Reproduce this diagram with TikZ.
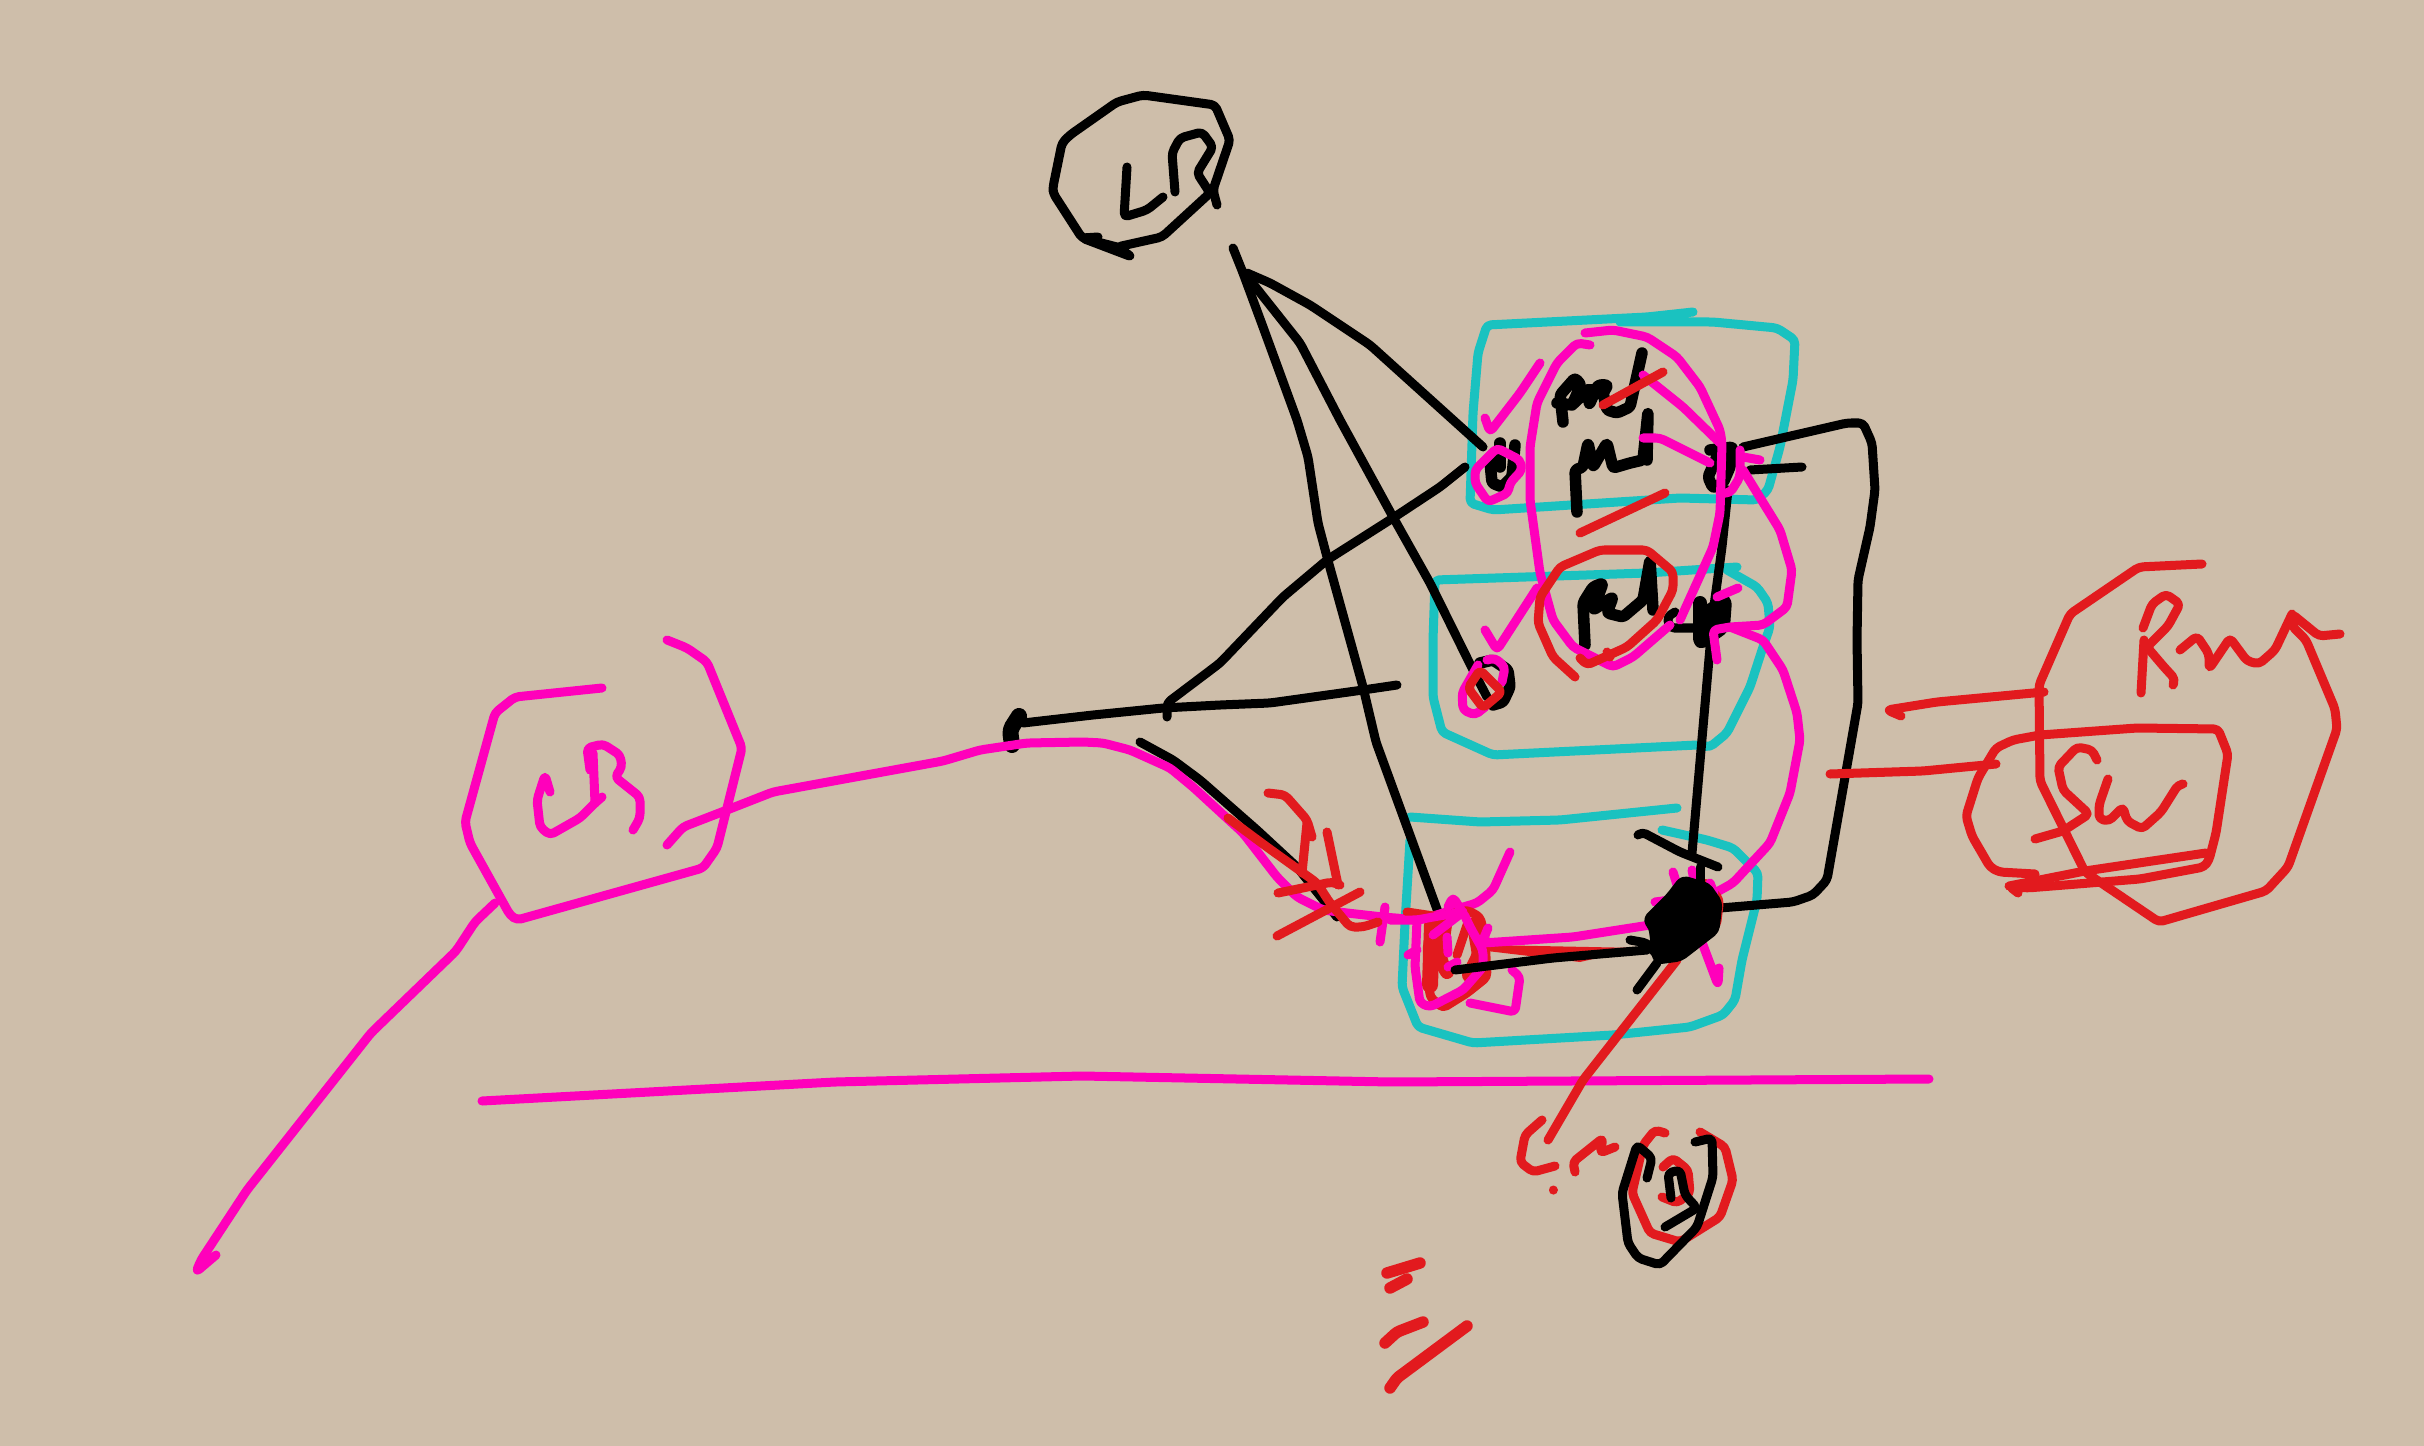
\documentclass[tikz,border=0pt]{standalone}
\usepackage{tikz}
\definecolor{paper}{RGB}{206,190,170}
\definecolor{tealink}{RGB}{26,194,192}
\definecolor{pinkink}{RGB}{255,0,187}
\definecolor{redink}{RGB}{226,26,30}
\begin{document}
\begin{tikzpicture}[
  x={(0.01cm,0cm)},
  y={(0cm,-0.01cm)},
  pen/.style={line width=0.09cm,line cap=round,line join=round,rounded corners=1.2pt},
  blackpen/.style={pen,black},
  tealpen/.style={pen,tealink},
  pinkpen/.style={pen,pinkink},
  redpen/.style={pen,redink},
  fatpen/.style={line width=0.115cm,rounded corners=0.8pt}]
\fill[paper] (0,0) rectangle (2424,1446);
\useasboundingbox (0,0) rectangle (2424,1446);
% Three boxes of the stack
\draw[tealpen] (1693,312) -- (1647,317) -- (1487,325) -- (1478,353) -- (1473,413) -- (1470,503) -- (1493,510) -- (1540,507) -- (1680,498) -- (1757,500) -- (1768,490) -- (1780,447) -- (1793,380) -- (1795,340) -- (1777,328) -- (1713,322) -- (1620,322);
\draw[tealpen] (1737,567) -- (1647,573) -- (1435,580) -- (1433,640) -- (1433,697) -- (1442,732) -- (1493,755) -- (1697,745) -- (1710,747) -- (1727,733) -- (1750,687) -- (1763,647) -- (1770,627) -- (1768,603) -- (1757,587) -- (1727,570);
\draw[tealpen] (1677,808) -- (1560,820) -- (1480,822) -- (1410,817);
\draw[tealpen] (1410,840) -- (1405,923) -- (1402,987) -- (1418,1027) -- (1473,1043) -- (1613,1035) -- (1690,1027) -- (1723,1015) -- (1735,1000) -- (1742,960) -- (1757,900) -- (1758,873) -- (1733,848) -- (1707,840) -- (1662,830);
% Black node top
\draw[blackpen] (1098,237) -- (1082,238) -- (1132,257) -- (1117,247) -- (1162,237) -- (1210,193) -- (1197,173) -- (1213,147) -- (1202,132) -- (1180,138) -- (1172,153) -- (1175,192);
\draw[blackpen] (1117,247) -- (1082,238) -- (1053,193) -- (1053,187) -- (1062,143) -- (1070,135) -- (1117,102) -- (1143,95) -- (1215,105) -- (1230,140) -- (1213,190) -- (1217,205);
\draw[blackpen] (1127,167) -- (1124,217) -- (1147,210) -- (1163,197);
% Links from the top node
\draw[blackpen] (1233,248) -- (1243,273) -- (1263,327) -- (1297,420) -- (1308,457) -- (1318,523) -- (1327,557) -- (1363,687) -- (1376,742) -- (1438,912);
\draw[blackpen] (1250,280) -- (1300,343) -- (1340,420) -- (1393,517) -- (1430,583) -- (1473,670) -- (1487,697);
\draw[blackpen] (1247,273) -- (1270,283) -- (1310,305) -- (1370,345) -- (1483,447);
% Links on the left
\draw[blackpen] (1465,467) -- (1440,487) -- (1393,518) -- (1327,560) -- (1283,597) -- (1220,663) -- (1167,703) -- (1167,717);
\draw[blackpen] (1023,723) -- (1093,715) -- (1163,708) -- (1220,705) -- (1270,703) -- (1363,690) -- (1397,685);
\draw[blackpen,line width=0.16cm] (1019,716) -- (1010,730) -- (1012,745);
\draw[blackpen] (1140,742) -- (1173,760) -- (1200,780) -- (1257,830) -- (1297,867) -- (1337,917);
% Links on the right
\draw[blackpen] (1743,447) -- (1847,423) -- (1863,423) -- (1872,443) -- (1875,490) -- (1870,527) -- (1858,580) -- (1857,640) -- (1858,703) -- (1827,880) -- (1813,895) -- (1793,902) -- (1720,908);
\draw[blackpen] (1750,470) -- (1802,467);
\draw[blackpen] (1728,490) -- (1722,547) -- (1713,613) -- (1692,853);
\draw[blackpen] (1638,835) -- (1642,832) -- (1680,852) -- (1718,867);
% Scribbled words
\draw[blackpen,fatpen] (1563,422) -- (1560,395) -- (1575,378) -- (1581,385) -- (1572,405) -- (1557,403);
\draw[blackpen,fatpen] (1572,405) -- (1590,388) -- (1589,405) -- (1598,385) -- (1608,385) -- (1603,393) -- (1607,410) -- (1617,413) -- (1630,407) -- (1642,353);
\draw[blackpen,fatpen] (1577,512) -- (1575,470) -- (1583,467) -- (1588,443) -- (1593,467) -- (1607,443) -- (1613,468) -- (1630,463) -- (1643,460) -- (1648,412) -- (1647,460);
\draw[blackpen,fatpen] (1585,645) -- (1583,603) -- (1593,587) -- (1603,583) -- (1593,610) -- (1613,597) -- (1607,613) -- (1623,617) -- (1643,600) -- (1650,560) -- (1653,610);
% Black dots of the stack
\draw[blackpen,fatpen] (1710,450) -- (1733,447) -- (1730,467) -- (1723,483) -- (1713,488) -- (1708,477) -- (1720,450);
\draw[blackpen] (1675,612) -- (1667,617) -- (1670,628) -- (1693,628);
\draw[blackpen,line width=0.14cm] (1700,603) -- (1700,643) -- (1723,627) -- (1725,600) -- (1707,613) -- (1704,630);
\draw[blackpen,fatpen] (1500,443) -- (1500,467);
\draw[blackpen,fatpen] (1490,462) -- (1492,483) -- (1502,487) -- (1512,477) -- (1515,445);
\draw[blackpen,fatpen] (1480,663) -- (1493,660) -- (1508,670) -- (1510,687) -- (1503,702) -- (1493,705);
% Pink node left
\draw[pinkpen] (602,688) -- (515,697) -- (495,713) -- (465,822) -- (470,843) -- (510,915) -- (517,920) -- (703,868) -- (717,848) -- (742,748) -- (707,662) -- (687,648) -- (667,640);
\draw[pinkpen] (550,792) -- (545,775) -- (537,800) -- (540,827) -- (550,835) -- (580,818) -- (595,803) -- (602,797);
\draw[pinkpen] (593,753) -- (595,803);
\draw[pinkpen] (590,770) -- (587,748) -- (603,744) -- (620,755) -- (622,767) -- (615,777) -- (640,797) -- (640,818) -- (633,830);
\draw[pinkpen] (495,903) -- (475,922) -- (456,951) -- (371,1033) -- (247,1190) -- (201,1260) -- (196,1272) -- (216,1255);
% Pink link and ground line
\draw[pinkpen] (667,845) -- (683,827) -- (727,810) -- (773,792) -- (943,761) -- (980,750) -- (1027,743) -- (1083,742) -- (1103,743) -- (1130,750) -- (1170,768) -- (1193,787) -- (1243,833) -- (1277,877) -- (1297,897) -- (1323,910) -- (1347,913) -- (1383,917) -- (1420,920) -- (1453,910) -- (1477,903) -- (1493,890) -- (1510,852);
\draw[pinkpen] (1385,907) -- (1380,942);
\draw[pinkpen] (482,1101) -- (835,1082) -- (1082,1076) -- (1391,1082) -- (1929,1079);
% Pink loops in the stack
\draw[pinkpen] (1590,345) -- (1577,343) -- (1557,363) -- (1537,403) -- (1530,447) -- (1530,500) -- (1540,573) -- (1553,620) -- (1573,647) -- (1613,667) -- (1633,657) -- (1670,625);
\draw[pinkpen] (1585,333) -- (1613,330) -- (1647,337) -- (1677,357) -- (1700,387) -- (1720,430) -- (1722,443) -- (1720,513) -- (1713,547) -- (1680,620);
\draw[pinkpen] (1643,375) -- (1683,407) -- (1720,443);
\draw[pinkpen] (1643,438) -- (1660,438) -- (1710,463);
\draw[pinkpen] (1743,457) -- (1760,460);
\draw[pinkpen] (1743,470) -- (1780,530) -- (1792,570) -- (1787,607) -- (1763,625) -- (1730,627) -- (1713,630) -- (1717,660);
\draw[pinkpen] (1717,597) -- (1738,588);
\draw[pinkpen] (1740,450) -- (1740,477) -- (1730,493) -- (1720,493);
\draw[pinkpen] (1730,627) -- (1763,640) -- (1783,670) -- (1797,713) -- (1800,740) -- (1790,793) -- (1770,843) -- (1733,883) -- (1715,893);
% Pink marks on the small nodes
\draw[pinkpen] (1540,363) -- (1520,393) -- (1490,432) -- (1485,418);
\draw[pinkpen] (1497,448) -- (1520,460) -- (1522,470) -- (1510,483) -- (1508,493) -- (1488,502) -- (1475,483) -- (1475,470) -- cycle;
\draw[pinkpen] (1537,588) -- (1497,650) -- (1485,630);
\draw[pinkpen] (1478,665) -- (1462,693) -- (1463,710) -- (1475,715) -- (1485,707);
\draw[pinkpen] (1487,660) -- (1495,658) -- (1505,667) -- (1502,682);
% Red strokes in the stack
\draw[redpen] (1663,372) -- (1603,405);
\draw[redpen] (1665,493) -- (1580,533);
\draw[redpen] (1575,677) -- (1553,657) -- (1538,623) -- (1540,597) -- (1560,567) -- (1600,550) -- (1647,550) -- (1673,572) -- (1673,590) -- (1657,620) -- (1627,647) -- (1587,665) -- (1580,658);
\draw[redpen] (1607,652) -- (1610,657);
\draw[redpen] (1480,670) -- (1468,688) -- (1483,708) -- (1502,692) -- cycle;
% Red marks on the link
\draw[redpen] (1268,793) -- (1285,795) -- (1307,820) -- (1312,837);
\draw[redpen] (1307,823) -- (1302,873);
\draw[redpen] (1228,818) -- (1267,847) -- (1317,883) -- (1330,903) -- (1350,927) -- (1363,927) -- (1378,922);
\draw[redpen] (1278,893) -- (1332,882) -- (1340,885);
\draw[redpen] (1327,832) -- (1338,885);
\draw[redpen] (1277,936) -- (1360,892);
% Red node right
\draw[redpen] (2202,564) -- (2139,567) -- (2070,614) -- (2039,685) -- (2040,781) -- (2085,872) -- (2159,922) -- (2266,891) -- (2288,867) -- (2337,729) -- (2335,709) -- (2306,640) -- (2292,626) -- (2292,614) -- (2319,636) -- (2340,634);
\draw[redpen] (2180,650) -- (2197,636) -- (2209,654) -- (2209,669) -- (2230,638) -- (2247,661) -- (2259,664) -- (2275,650) -- (2292,614);
\draw[redpen] (2143,628) -- (2152,604) -- (2166,594) -- (2180,604) -- (2168,626) -- (2147,647) -- (2164,667) -- (2175,679) -- (2173,685);
\draw[redpen] (2144,640) -- (2141,693);
\draw[redpen] (1901,716) -- (1887,710) -- (1937,702) -- (2044,692);
\draw[redpen] (1830,774) -- (1923,771) -- (1996,764);
% Red switch box
\draw[redpen] (2035,874) -- (1999,872) -- (1990,867) -- (1972,836) -- (1966,816) -- (1978,778) -- (1996,748) -- (2013,740) -- (2040,735) -- (2137,728) -- (2218,729) -- (2228,754) -- (2216,833) -- (2209,860) -- (2204,867) -- (2140,879) -- (2027,888) -- (2009,886) -- (2018,893);
\draw[redpen] (2206,853) -- (2085,871) -- (2009,886);
\draw[redpen] (2097,760) -- (2092,750) -- (2077,747) -- (2058,767) -- (2063,790) -- (2089,814) -- (2063,831) -- (2035,839);
\draw[redpen] (2108,779) -- (2099,805) -- (2099,819) -- (2109,821) -- (2123,807) -- (2127,821) -- (2142,829) -- (2161,812) -- (2178,785) -- (2183,784);
% Scribbled node at the foot of the stack
\draw[redpen,line width=0.16cm] (1432,925) -- (1430,985);
\draw[redpen,line width=0.14cm] (1445,925) -- (1440,960) -- (1447,972);
\draw[redpen,line width=0.16cm] (1475,925) -- (1480,955) -- (1470,975);
\draw[redpen] (1407,912) -- (1440,917) -- (1467,910) -- (1480,917) -- (1485,937) -- (1487,977) -- (1467,993) -- (1443,1008) -- (1430,997) -- (1427,947) -- (1433,927);
\draw[redpen] (1467,925) -- (1457,955);
\fill[redink] (1487,951) -- (1580,962) -- (1640,948) -- (1487,945) -- cycle;
\draw[pinkpen] (1390,920) -- (1417,920) -- (1433,917) -- (1463,912) -- (1470,927) -- (1483,950) -- (1483,967) -- (1463,990) -- (1430,1007) -- (1420,1003) -- (1415,967) -- (1417,920);
\draw[pinkpen] (1433,935) -- (1463,912);
\draw[pinkpen] (1448,907) -- (1453,897) -- (1463,913);
\draw[pinkpen] (1408,955) -- (1417,950);
\draw[pinkpen] (1488,928) -- (1483,940);
\draw[pinkpen] (1448,967) -- (1457,962);
\draw[pinkpen] (1447,937) -- (1448,953);
\draw[pinkpen] (1483,943) -- (1573,937) -- (1650,925);
\draw[pinkpen] (1470,1003) -- (1515,1012) -- (1520,977) -- (1512,970);
% Node at the right of the foot
\draw[redpen] (1677,960) -- (1583,1080) -- (1548,1140);
\draw[redpen,line width=0.12cm] (1660,958) -- (1715,925) -- (1718,900) -- (1705,885);
\draw[pinkpen] (1673,872) -- (1678,888);
\draw[pinkpen] (1692,870) -- (1695,885);
\draw[pinkpen] (1710,883) -- (1714,893);
\draw[pinkpen] (1655,902) -- (1670,900);
\draw[pinkpen] (1700,937) -- (1718,985) -- (1719,968);
\fill[black] (1647,920) -- (1670,897) -- (1683,880) -- (1707,887) -- (1718,903) -- (1715,930) -- (1680,957) -- (1657,960) -- (1653,927) -- cycle;
\draw[blackpen] (1647,920) -- (1670,897) -- (1683,880) -- (1707,887) -- (1718,903) -- (1715,930) -- (1680,957) -- (1657,960) -- (1653,927) -- cycle;
\draw[blackpen] (1700,867) -- (1700,885);
\draw[blackpen] (1455,970) -- (1553,958) -- (1647,950);
\draw[blackpen] (1630,940) -- (1647,943) -- (1657,955);
\draw[blackpen] (1637,990) -- (1657,963);
% Small node below the ground line
\draw[redpen] (1542,1120) -- (1525,1135) -- (1520,1162) -- (1533,1172) -- (1555,1166);
\draw[redpen] (1553,1190) -- (1553,1190.1);
\draw[redpen] (1575,1172) -- (1573,1162) -- (1603,1138) -- (1600,1153) -- (1615,1147);
\draw[redpen] (1665,1133) -- (1655,1130) -- (1643,1145) -- (1632,1193) -- (1650,1233) -- (1680,1242) -- (1720,1217) -- (1733,1180) -- (1725,1147) -- (1700,1132);
\draw[redpen] (1663,1167) -- (1673,1158) -- (1688,1170) -- (1690,1193) -- (1677,1203) -- (1662,1197);
\draw[blackpen] (1647,1178) -- (1652,1158) -- (1637,1145) -- (1622,1193) -- (1628,1243) -- (1638,1258) -- (1660,1265) -- (1697,1227) -- (1713,1177) -- (1712,1138) -- (1695,1142);
\draw[blackpen] (1671,1198) -- (1668,1173) -- (1680,1170) -- (1685,1195) -- (1697,1208) -- (1665,1227);
% Red ticks at the bottom
\draw[redpen,fatpen] (1387,1273) -- (1420,1263);
\draw[redpen,fatpen] (1390,1288) -- (1407,1279);
\draw[redpen,fatpen] (1385,1343) -- (1397,1332) -- (1423,1322);
\draw[redpen,fatpen] (1390,1388) -- (1397,1378) -- (1467,1326);
\end{tikzpicture}
\end{document}
